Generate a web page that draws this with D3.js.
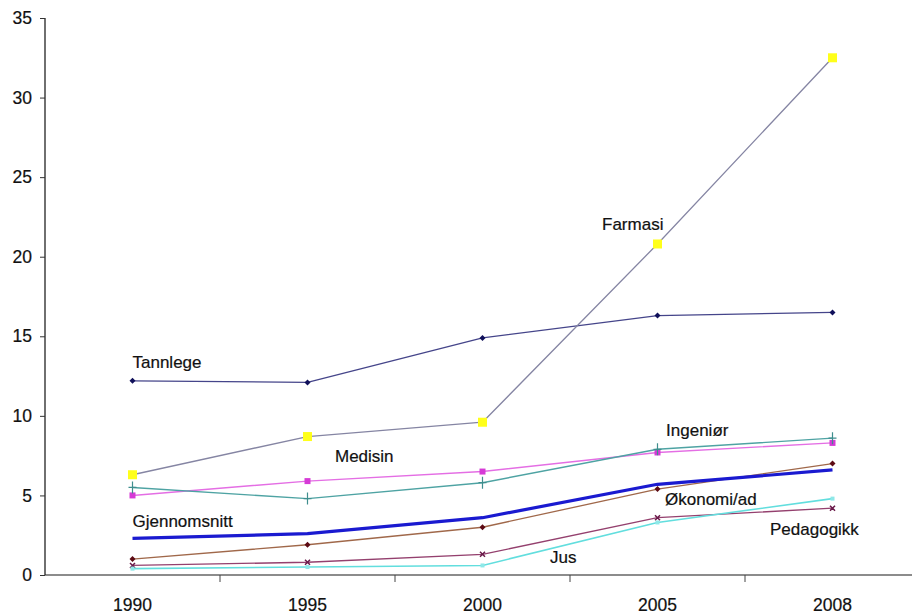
<!DOCTYPE html>
<html>
<head>
<meta charset="utf-8">
<script src="https://cdn.jsdelivr.net/npm/d3@7"></script>
<style>
  html, body { margin: 0; padding: 0; background: #fff; }
  svg { display: block; font-family: "Liberation Sans", Arial, sans-serif; }
</style>
</head>
<body>
<svg id="chart" width="912" height="616"></svg>
<script>
// Categories (years) and y-axis ticks
const years = ["1990", "1995", "2000", "2005", "2008"];
const yTicks = [0, 5, 10, 15, 20, 25, 30, 35];

// Series values, one per year
const tannlege     = [12.2, 12.1, 14.9, 16.3, 16.5];
const farmasi      = [6.3, 8.7, 9.6, 20.8, 32.5];
const medisin      = [5.0, 5.9, 6.5, 7.7, 8.3];
const ingenior     = [5.5, 4.8, 5.8, 7.9, 8.6];
const okonomi      = [1.0, 1.9, 3.0, 5.4, 7.0];
const pedagogikk   = [0.6, 0.8, 1.3, 3.6, 4.2];
const jus          = [0.4, 0.5, 0.6, 3.3, 4.8];
const gjennomsnitt = [2.3, 2.6, 3.6, 5.7, 6.6];

// Series names
const names = ["Tannlege", "Farmasi", "Medisin", "Ingeniør", "Økonomi/ad", "Pedagogikk", "Jus", "Gjennomsnitt"];

// Styling per series: line colour/width, marker shape/colour/size
const styles = {
  "Tannlege":     { line: "#45458a", width: 1.3, marker: "diamond", fill: "#10105a", size: 6 },
  "Farmasi":      { line: "#8585a3", width: 1.3, marker: "square",  fill: "#ffff1a", size: 9 },
  "Medisin":      { line: "#e46ee4", width: 1.4, marker: "square",  fill: "#d63ad6", size: 6 },
  "Ingeniør":     { line: "#4ea3a3", width: 1.4, marker: "plus",    fill: "#3f8e8e", size: 12 },
  "Økonomi/ad":   { line: "#a0684a", width: 1.3, marker: "diamond", fill: "#5c0a14", size: 6 },
  "Pedagogikk":   { line: "#94406e", width: 1.3, marker: "cross",   fill: "#6a1a4a", size: 5 },
  "Jus":          { line: "#62dede", width: 1.6, marker: "square",  fill: "#8ee8e8", size: 4 },
  "Gjennomsnitt": { line: "#1a1ad0", width: 3.2, marker: null }
};

// Label anchors: i = position along the category index, v = value on y axis (baseline)
const labelAt = {
  "Tannlege":     { i: 0.0,   v: 13.0 },
  "Farmasi":      { i: 2.683, v: 21.7 },
  "Medisin":      { i: 1.157, v: 7.1 },
  "Ingeniør":     { i: 3.049, v: 8.73 },
  "Gjennomsnitt": { i: 0.0,   v: 3.02 },
  "Økonomi/ad":   { i: 3.043, v: 4.4 },
  "Pedagogikk":   { i: 3.643, v: 2.51 },
  "Jus":          { i: 2.386, v: 0.75 }
};

const values = {
  "Tannlege": tannlege, "Farmasi": farmasi, "Medisin": medisin, "Ingeniør": ingenior,
  "Økonomi/ad": okonomi, "Pedagogikk": pedagogikk, "Jus": jus, "Gjennomsnitt": gjennomsnitt
};

const svg = d3.select("#chart");
const mLeft = 45, mRight = 920, mTop = 18, mBottom = 575;

const x = d3.scaleBand().domain(years).range([mLeft, mRight]).paddingInner(0).paddingOuter(0);
const xc = d => x(d) + x.bandwidth() / 2;
const xi = d3.scaleLinear().domain([0, years.length - 1]).range([xc(years[0]), xc(years[years.length - 1])]);
const y = d3.scaleLinear().domain([0, 35]).range([mBottom, mTop]);

// X axis: ticks at category boundaries, labels centred in each band
const xAxisG = svg.append("g");
xAxisG.append("line")
  .attr("x1", mLeft).attr("x2", 912).attr("y1", mBottom).attr("y2", mBottom)
  .attr("stroke", "#666").attr("stroke-width", 1.5);
const bounds = years.map(d => x(d)).slice(1);
xAxisG.selectAll("line.tick").data(bounds).enter().append("line")
  .attr("class", "tick")
  .attr("x1", d => d).attr("x2", d => d)
  .attr("y1", mBottom).attr("y2", mBottom + 7)
  .attr("stroke", "#444").attr("stroke-width", 1);
xAxisG.selectAll("text").data(years).enter().append("text")
  .attr("x", d => xc(d)).attr("y", mBottom + 36)
  .attr("text-anchor", "middle")
  .attr("font-size", 17.5).attr("fill", "#111")
  .attr("stroke", "#111").attr("stroke-width", 0.2)
  .text(d => d);

// Y axis
const yAxis = d3.axisLeft(y).tickValues(yTicks).tickSize(5).tickPadding(8).tickFormat(d3.format("d"));
const yAxisG = svg.append("g").attr("transform", `translate(${mLeft},0)`).call(yAxis);
yAxisG.select(".domain").attr("stroke", "#222").attr("stroke-width", 1.3).attr("d", `M-0,${mTop}V${mBottom}`);
yAxisG.selectAll(".tick line").attr("stroke", "#333");
yAxisG.selectAll(".tick text")
  .attr("font-size", 17.5).attr("fill", "#111")
  .attr("stroke", "#111").attr("stroke-width", 0.2)
  .attr("font-family", "'Liberation Sans', Arial, sans-serif");

// Lines
const line = d3.line().x((d, i) => xc(years[i])).y(d => y(d));
const plot = svg.append("g");
names.forEach(name => {
  const s = styles[name];
  const g = plot.append("g");
  g.append("path")
    .datum(values[name])
    .attr("d", line)
    .attr("fill", "none")
    .attr("stroke", s.line)
    .attr("stroke-width", s.width)
    .attr("stroke-linejoin", "round");

  if (!s.marker) return;
  const pts = values[name].map((v, i) => ({ cx: xc(years[i]), cy: y(v) }));
  const h = s.size / 2;
  if (s.marker === "square") {
    g.selectAll("rect").data(pts).enter().append("rect")
      .attr("x", d => d.cx - h).attr("y", d => d.cy - h)
      .attr("width", s.size).attr("height", s.size)
      .attr("fill", s.fill);
  } else if (s.marker === "diamond") {
    g.selectAll("path.m").data(pts).enter().append("path")
      .attr("class", "m")
      .attr("d", d => `M${d.cx},${d.cy - h}L${d.cx + h},${d.cy}L${d.cx},${d.cy + h}L${d.cx - h},${d.cy}Z`)
      .attr("fill", s.fill);
  } else if (s.marker === "plus") {
    g.selectAll("path.m").data(pts).enter().append("path")
      .attr("class", "m")
      .attr("d", d => `M${d.cx},${d.cy - h}V${d.cy + h}M${d.cx - 4},${d.cy}H${d.cx + 4}`)
      .attr("stroke", s.fill).attr("stroke-width", 1.2).attr("fill", "none");
  } else if (s.marker === "cross") {
    g.selectAll("path.m").data(pts).enter().append("path")
      .attr("class", "m")
      .attr("d", d => `M${d.cx - h},${d.cy - h}L${d.cx + h},${d.cy + h}M${d.cx + h},${d.cy - h}L${d.cx - h},${d.cy + h}`)
      .attr("stroke", s.fill).attr("stroke-width", 1.5).attr("fill", "none");
  }
});

// Series labels
svg.append("g").selectAll("text").data(names).enter().append("text")
  .attr("x", d => xi(labelAt[d].i))
  .attr("y", d => y(labelAt[d].v))
  .attr("font-size", 17)
  .attr("fill", "#111")
  .attr("stroke", "#111").attr("stroke-width", 0.2)
  .text(d => d);
</script>
</body>
</html>
